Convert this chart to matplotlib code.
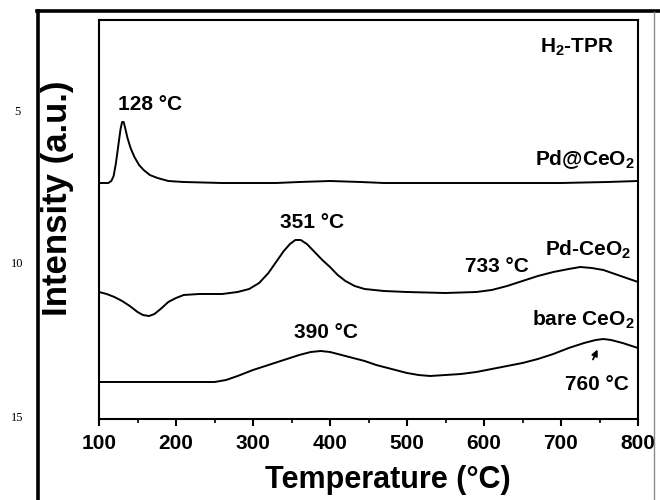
import numpy as np
import matplotlib
matplotlib.use("Agg")
import matplotlib.pyplot as plt
from matplotlib.lines import Line2D

plt.rcParams['font.family'] = ['Liberation Sans', 'DejaVu Sans']
plt.rcParams['font.weight'] = 'bold'
plt.rcParams['mathtext.fontset'] = 'custom'
plt.rcParams['mathtext.rm'] = 'Liberation Sans:bold'
plt.rcParams['mathtext.bf'] = 'Liberation Sans:bold'
plt.rcParams['mathtext.it'] = 'Liberation Sans:bold'

# H2-TPR traces (temperature in C, intensity in a.u., offset stacked)
t_pd_at = [100, 112, 116, 119, 122, 125, 128, 130, 132, 134, 137, 141, 146, 152,
           158, 166, 176, 190, 210, 260, 330, 360, 400, 440, 470, 600, 700, 760, 800]
i_pd_at = [236, 236, 238, 243, 256, 273, 290, 297, 297, 291, 281, 271, 262, 254,
           249, 244, 241, 238, 237, 236, 236, 237, 238, 237, 236, 236, 236, 237, 238]

t_pd_ceo = [100, 110, 120, 130, 140, 150, 157, 165, 172, 180, 190, 200, 210, 230,
            260, 280, 295, 308, 320, 330, 340, 348, 355, 362, 370, 380, 390, 400,
            410, 420, 432, 445, 470, 500, 550, 590, 610, 630, 650, 670, 690, 710,
            725, 740, 755, 770, 785, 800]
i_pd_ceo = [127, 125, 122, 118, 113, 107, 104, 103, 105, 110, 117, 121, 124, 125,
            125, 127, 130, 136, 146, 157, 168, 175, 179, 179, 175, 167, 159, 152,
            144, 138, 133, 130, 128, 127, 126, 127, 129, 133, 138, 143, 147, 150,
            152, 151, 149, 145, 141, 137]

t_bare = [100, 150, 200, 250, 265, 280, 300, 320, 340, 360, 375, 388, 400, 415,
          430, 445, 460, 480, 500, 515, 530, 550, 570, 590, 610, 630, 650, 670,
          690, 710, 730, 745, 755, 765, 780, 800]
i_bare = [37, 37, 37, 37, 39, 43, 49, 54, 59, 64, 67, 68, 67, 64,
          61, 58, 54, 50, 46, 44, 43, 44, 45, 47, 50, 53, 56, 60,
          65, 71, 76, 79, 80, 79, 76, 71]

fig = plt.figure(figsize=(6.6, 5), dpi=100)
ax = fig.add_axes([99 / 660, 1 - 419 / 500, 539 / 660, 399 / 500])

for t, i in [(t_pd_at, i_pd_at), (t_pd_ceo, i_pd_ceo), (t_bare, i_bare)]:
    ax.plot(t, i, color='black', lw=1.4)

ax.set_xlim(100, 800)
ax.set_ylim(0, 399)
ax.set_xticks(np.arange(100, 801, 100))
ax.set_xticks(np.arange(150, 800, 100), minor=True)
ax.set_yticks([])
ax.tick_params(axis='x', which='major', direction='out', length=5, width=1.5,
               labelsize=15, pad=6)
ax.tick_params(axis='x', which='minor', direction='out', length=3, width=1.2)
for lbl in ax.get_xticklabels():
    lbl.set_fontweight('bold')
for s in ax.spines.values():
    s.set_linewidth(1.5)

ax.set_xlabel('Temperature (°C)', fontsize=22, fontweight='bold', va='center')
ax.xaxis.set_label_coords(388 / 660, 1 - 480 / 500, transform=fig.transFigure)
ax.set_ylabel('Intensity (a.u.)', fontsize=25, fontweight='bold', va='center')
ax.yaxis.set_label_coords(57 / 660, 1 - 198 / 500, transform=fig.transFigure)

kw = dict(fontsize=15, fontweight='bold', va='center')
ax.text(166, 314, '128 °C', ha='center', **kw)
ax.text(721, 372, 'H$_2$-TPR', ha='center', **kw)
ax.text(795, 259, 'Pd@CeO$_2$', ha='right', **kw)
ax.text(377, 197, '351 °C', ha='center', **kw)
ax.text(791, 169, 'Pd-CeO$_2$', ha='right', **kw)
ax.text(617, 153, '733 °C', ha='center', **kw)
ax.text(795, 99, 'bare CeO$_2$', ha='right', **kw)
ax.text(395, 87, '390 °C', ha='center', **kw)
ax.text(747, 35, '760 °C', ha='center', **kw)
ax.annotate('', xy=(749, 72), xytext=(740, 57),
            arrowprops=dict(arrowstyle='-|>', color='black', lw=1.3,
                            mutation_scale=9))

# page frame and manuscript line numbers
fig.add_artist(Line2D([38 / 660, 38 / 660], [0, 1 - 11 / 500], color='black', lw=2.6))
fig.add_artist(Line2D([37 / 660, 1], [1 - 11 / 500, 1 - 11 / 500], color='black', lw=2.6))
fig.add_artist(Line2D([654 / 660, 654 / 660], [0, 1 - 12 / 500], color='0.55', lw=1.0))
for n, y in [('5', 112), ('10', 264), ('15', 418)]:
    fig.text(17 / 660, 1 - y / 500, n, fontsize=9, fontweight='normal',
             family='Liberation Serif', ha='center', va='center')

fig.savefig('out.png', dpi=100)
